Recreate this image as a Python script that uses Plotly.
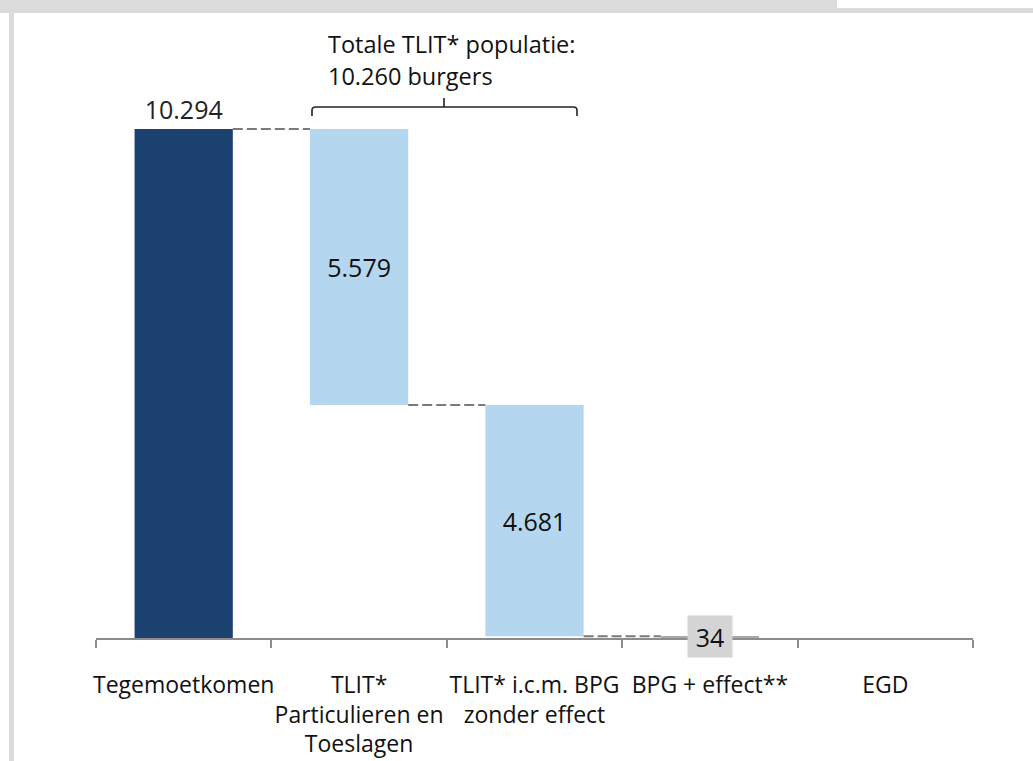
import plotly.graph_objects as go

# ---------------- data ----------------
categories = [
    "Tegemoetkomen",
    "TLIT*<br>Particulieren en<br>Toeslagen",
    "TLIT* i.c.m. BPG<br>zonder effect",
    "BPG + effect**",
    "EGD",
]
values = [10294, 5579, 4681, 34, 0]
value_labels = ["10.294", "5.579", "4.681", "34", ""]
bracket_lines = ["Totale TLIT* populatie:", "10.260 burgers"]

# ---------------- style ----------------
W, H = 1033, 761
L, R, T, B = 96, 60, 20, 123
PW, PH = W - L - R, H - T - B
DARK = "#1a416f"
LIGHT = "#b4d6ee"
GREYBAR = "#a8a8a8"
AXIS = "#8c8c8c"
FRAME = "#dcdcdc"
FONT = "Open Sans"
colors = [DARK, LIGHT, LIGHT, GREYBAR, GREYBAR]
half_w = 0.28


def px(x):
    return (x - L) / PW


def py(y):
    return (T + PH - y) / PH


# waterfall bases: first bar is the total, others step down from it
bases = [0]
level = values[0]
for v in values[1:]:
    level -= v
    bases.append(level)

fig = go.Figure()
fig.add_trace(go.Bar(
    x=categories,
    y=values,
    base=bases,
    marker=dict(color=colors, line=dict(width=0)),
    text=value_labels[:3] + ["", ""],
    textposition=["outside", "inside", "inside", "none", "none"],
    insidetextanchor="middle",
    textangle=0,
    textfont=dict(family=FONT, size=25, color="#111111"),
    outsidetextfont=dict(family=FONT, size=25, color="#222222"),
    insidetextfont=dict(family=FONT, size=25, color="#111111"),
    cliponaxis=False,
    hoverinfo="skip",
))

shapes = []
# dashed connectors between consecutive bars
for i in range(3):
    lvl = bases[i + 1] + values[i + 1]
    shapes.append(dict(type="line", xref="x", yref="y",
                       x0=i + half_w, x1=i + 1 - half_w, y0=lvl, y1=lvl,
                       line=dict(color="#7a7a7a", width=2, dash="10px,4px")))

# bracket above bars 2 and 3
xl, xr, xm = px(312), px(577), px(444)
yb, yl, yt = py(116), py(107), py(98)
dx = 4 / PW
dy = 3 / PH
path = (f"M {xl},{yb} L {xl},{yl - dy} Q {xl},{yl} {xl + dx},{yl} "
        f"L {xr - dx},{yl} Q {xr},{yl} {xr},{yl - dy} L {xr},{yb} "
        f"M {xm},{yl} L {xm},{yt}")
shapes.append(dict(type="path", xref="paper", yref="paper", path=path,
                   line=dict(color="#222222", width=1.6)))

# page frame (grey band at top, grey strip at left)
shapes.append(dict(type="rect", xref="paper", yref="paper",
                   x0=px(0), x1=px(W), y0=py(13), y1=py(0),
                   fillcolor=FRAME, line=dict(width=0), layer="below"))
shapes.append(dict(type="rect", xref="paper", yref="paper",
                   x0=px(837), x1=px(W), y0=py(8), y1=py(0),
                   fillcolor="white", line=dict(width=0), layer="below"))
shapes.append(dict(type="rect", xref="paper", yref="paper",
                   x0=px(9), x1=px(14), y0=py(H), y1=py(13),
                   fillcolor=FRAME, line=dict(width=0), layer="below"))

annotations = [
    dict(xref="paper", yref="paper", x=px(326), y=py(44), xanchor="left",
         yanchor="middle", text=bracket_lines[0], showarrow=False,
         font=dict(family=FONT, size=23.5, color="#111111")),
    dict(xref="paper", yref="paper", x=px(326), y=py(76), xanchor="left",
         yanchor="middle", text=bracket_lines[1], showarrow=False,
         font=dict(family=FONT, size=23.5, color="#111111")),
    dict(xref="x", yref="y", x=categories[3], y=values[3], text=value_labels[3],
         showarrow=False, xanchor="center", yanchor="middle",
         bgcolor="#d4d4d4", width=40, height=37, borderpad=2,
         font=dict(family=FONT, size=25, color="#111111")),
]

fig.update_layout(
    width=W, height=H,
    margin=dict(l=L, r=R, t=T, b=B, autoexpand=False),
    paper_bgcolor="white", plot_bgcolor="white",
    showlegend=False,
    bargap=1 - 2 * half_w,
    shapes=shapes,
    annotations=annotations,
    font=dict(family=FONT, color="#111111"),
    xaxis=dict(type="category", range=[-0.5, 4.5], showline=True,
               linecolor=AXIS, linewidth=2, ticks="outside",
               tickson="boundaries", ticklen=8, tickwidth=2,
               tickcolor=AXIS, showgrid=False, zeroline=False,
               tickangle=0, ticklabelstandoff=25,
               tickfont=dict(family=FONT, size=23, color="#111111")),
    yaxis=dict(visible=False, range=[0, 12500], showgrid=False,
               zeroline=False),
)

fig.write_html("out.html", config={"displayModeBar": False},
               post_script="document.body.style.margin='0px';document.body.style.overflow='hidden';")
